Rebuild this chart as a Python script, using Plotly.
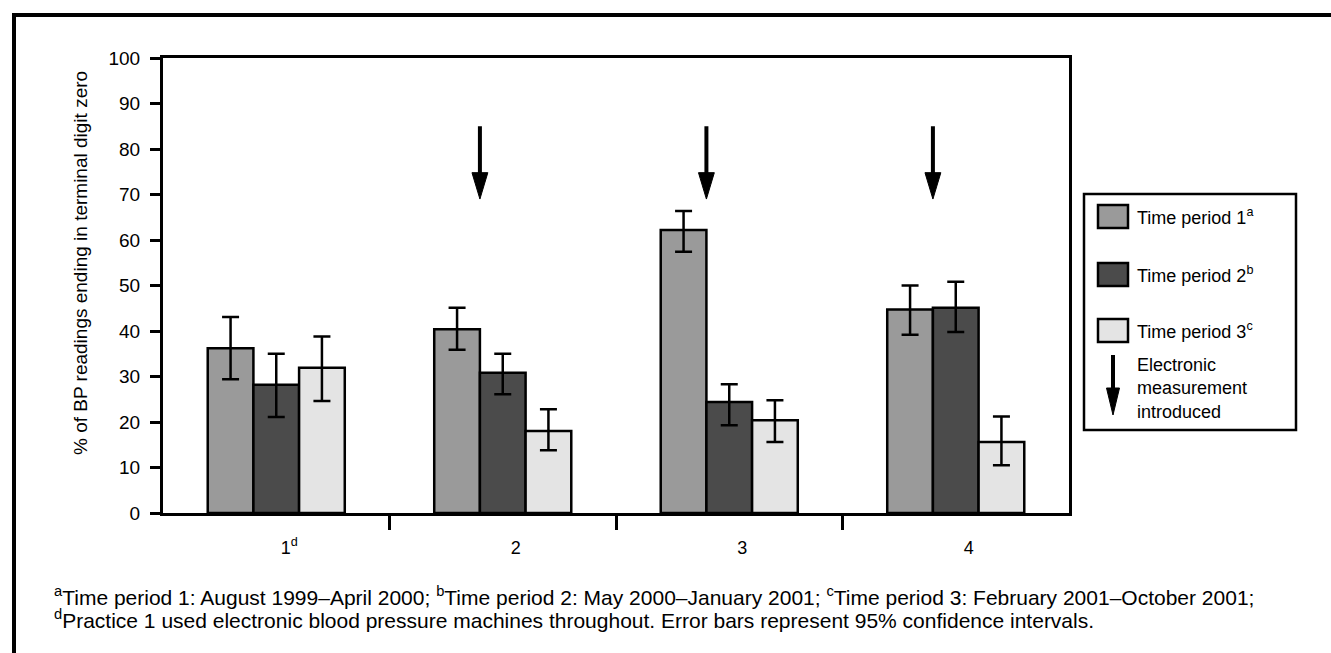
import plotly.graph_objects as go

# ---------------- data ----------------
practices = ["1<sup>d</sup>", "2", "3", "4"]
series_names = ["Time period 1<sup>a</sup>", "Time period 2<sup>b</sup>", "Time period 3<sup>c</sup>"]
period1 = [36.2, 40.4, 62.2, 44.7]
period1_lo = [29.4, 35.9, 57.4, 39.2]
period1_hi = [43.1, 45.1, 66.4, 50.0]
period2 = [28.2, 30.8, 24.4, 45.1]
period2_lo = [21.1, 26.1, 19.3, 39.8]
period2_hi = [35.0, 35.0, 28.3, 50.8]
period3 = [31.9, 18.0, 20.4, 15.6]
period3_lo = [24.6, 13.8, 15.6, 10.5]
period3_hi = [38.8, 22.8, 24.8, 21.2]
arrow_practices = [1, 2, 3]          # indices of practices where electronic measurement was introduced
arrow_top, arrow_tip = 85, 69        # % axis values of the arrow
colors = ["#9a9a9a", "#4b4b4b", "#e4e4e4"]
y_title = "% of BP readings ending in terminal digit zero"
footnote_lines = [
    "<sup>a</sup>Time period 1: August 1999\u2013April 2000; <sup>b</sup>Time period 2: May 2000\u2013January 2001; "
    "<sup>c</sup>Time period 3: February 2001\u2013October 2001;",
    "<sup>d</sup>Practice 1 used electronic blood pressure machines throughout. Error bars represent 95% confidence intervals.",
]

FONT = "Liberation Sans, Arial, Helvetica, sans-serif"
W, H = 1331, 653
L, R, T, B = 163, 1069, 58, 513


def px(x):
    return (x - L) / (R - L)


def py(y):
    return (B - y) / (B - T)


x_idx = list(range(len(practices)))
fig = go.Figure()
for name, vals, lo, hi, col in zip(series_names,
                                   [period1, period2, period3],
                                   [period1_lo, period2_lo, period3_lo],
                                   [period1_hi, period2_hi, period3_hi],
                                   colors):
    fig.add_trace(go.Bar(
        x=x_idx, y=vals, name=name, showlegend=False,
        marker=dict(color=col, line=dict(color="black", width=2.5)),
        error_y=dict(type="data", symmetric=False,
                     array=[h - v for h, v in zip(hi, vals)],
                     arrayminus=[v - l for v, l in zip(vals, lo)],
                     color="black", thickness=2.5, width=8.5),
    ))

bargap = 0.395
bar_w = (1 - bargap) / 3
shapes = []
# arrows (between period 1 and period 2 bars)
head_len = 5.8
head_half = 0.035
for i in arrow_practices:
    xa = i - bar_w / 2
    shapes.append(dict(type="line", xref="x", yref="y", x0=xa, x1=xa, y0=arrow_top, y1=arrow_tip + head_len - 0.5,
                       line=dict(color="black", width=4)))
    shapes.append(dict(type="path", xref="x", yref="y",
                       path=f"M{xa - head_half},{arrow_tip + head_len} L{xa + head_half},{arrow_tip + head_len} L{xa},{arrow_tip} Z",
                       fillcolor="black", line=dict(color="black", width=1)))

# outer frame
shapes.append(dict(type="rect", xref="paper", yref="paper", x0=px(14), x1=px(1400), y0=py(720), y1=py(15),
                   line=dict(color="black", width=4)))
# legend box
shapes.append(dict(type="rect", xref="paper", yref="paper", x0=px(1084), x1=px(1296), y0=py(430), y1=py(194),
                   line=dict(color="black", width=2.5)))
annotations = []
legend_y = [216.5, 274.5, 330.5]
for name, col, yc in zip(series_names, colors, legend_y):
    shapes.append(dict(type="rect", xref="paper", yref="paper", x0=px(1098), x1=px(1128),
                       y0=py(yc + 11.5), y1=py(yc - 11.5), fillcolor=col, line=dict(color="black", width=2.5)))
    annotations.append(dict(xref="paper", yref="paper", x=px(1135), y=py(yc), text=name, showarrow=False,
                            xanchor="left", yanchor="middle", font=dict(size=18, color="black", family=FONT)))
# legend arrow
shapes.append(dict(type="line", xref="paper", yref="paper", x0=px(1113), x1=px(1113), y0=py(355), y1=py(390),
                   line=dict(color="black", width=4)))
shapes.append(dict(type="path", xref="paper", yref="paper",
                   path=f"M{px(1106.5)},{py(388)} L{px(1119.5)},{py(388)} L{px(1113)},{py(415)} Z",
                   fillcolor="black", line=dict(color="black", width=1)))
annotations.append(dict(xref="paper", yref="paper", x=px(1135), y=py(388),
                        text="Electronic<br>measurement<br>introduced", showarrow=False, align="left",
                        xanchor="left", yanchor="middle", font=dict(size=18, color="black", family=FONT)))
# y axis title
annotations.append(dict(xref="paper", yref="paper", x=px(80), y=py(263), text=y_title, textangle=-90,
                        showarrow=False, xanchor="center", yanchor="middle",
                        font=dict(size=19, color="black", family=FONT)))
# footnote
for line, yc in zip(footnote_lines, [596, 619]):
    annotations.append(dict(xref="paper", yref="paper", x=px(52), y=py(yc), text=line, showarrow=False,
                            align="left", xanchor="left", yanchor="middle",
                            font=dict(size=21, color="black", family=FONT)))

fig.update_layout(
    width=W, height=H,
    margin=dict(l=L, r=W - R, t=T, b=H - B, autoexpand=False),
    paper_bgcolor="white", plot_bgcolor="white",
    barmode="group", bargap=bargap, bargroupgap=0,
    font=dict(family=FONT, size=18, color="black"),
    shapes=shapes, annotations=annotations,
    xaxis=dict(range=[-0.5, len(practices) - 0.5], tickmode="array", tickvals=x_idx, ticktext=practices,
               ticks="", ticklabelstandoff=16, ticklabelshift=13,
               minor=dict(tickmode="array", tickvals=[i + 0.5 for i in x_idx[:-1]], ticks="outside",
                          ticklen=14, tickwidth=2.5, tickcolor="black", showgrid=False),
               showline=True, linecolor="black", linewidth=3, mirror=True,
               showgrid=False, zeroline=False, tickfont=dict(size=18), fixedrange=True),
    yaxis=dict(range=[0, 100], dtick=10, ticks="outside", ticklen=10, tickwidth=2.5, tickcolor="black",
               showline=True, linecolor="black", linewidth=3, mirror=True, showgrid=False, zeroline=False,
               tickfont=dict(size=19), ticklabelstandoff=6, automargin=False, fixedrange=True),
)

fig.write_html("out.html", config={"displayModeBar": False},
               post_script="document.body.style.margin='0';")
